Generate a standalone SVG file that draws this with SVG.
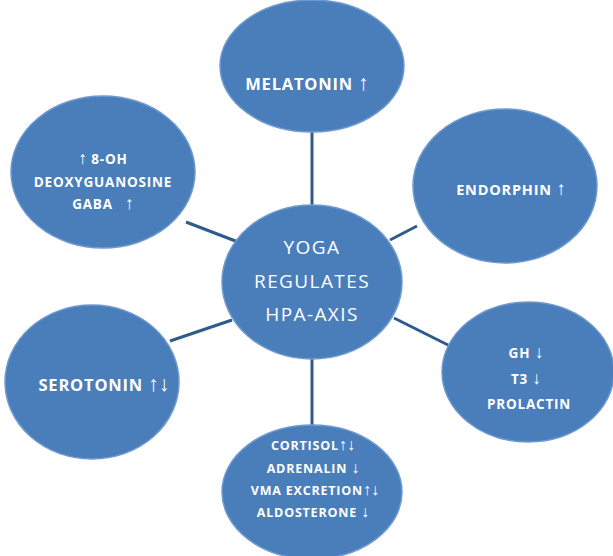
<svg xmlns="http://www.w3.org/2000/svg" width="613" height="556" viewBox="0 0 613 556">
<style>
.n{fill:#4a7ebb;stroke:#6f9ad0;stroke-width:1.5}
.c{stroke:#2f5b8c;stroke-width:3;fill:none}
.t{fill:#fff;font-family:"Open Sans","Liberation Sans",sans-serif;font-weight:bold;text-anchor:middle;letter-spacing:0.8px}
.m{fill:#fff;font-family:"Open Sans","Liberation Sans",sans-serif;text-anchor:middle;font-size:19px;letter-spacing:1.4px}
.a{font-family:"Liberation Sans",sans-serif;font-weight:normal;letter-spacing:0;font-size:130%}
</style>
<rect width="613" height="556" fill="#fff"/>
<g id="connectors">
<line class="c" x1="312" y1="132" x2="312" y2="206"/>
<line class="c" x1="186" y1="222" x2="238" y2="242"/>
<line class="c" x1="417" y1="226" x2="390" y2="240"/>
<line class="c" x1="170" y1="341" x2="232" y2="320"/>
<line class="c" x1="394" y1="318" x2="450" y2="346"/>
<line class="c" x1="312" y1="357" x2="312" y2="426"/>
</g>
<g id="center">
<ellipse class="n" cx="312" cy="282" rx="90" ry="77"/>
<text class="m" x="312" y="254">YOGA</text>
<text class="m" x="312" y="288">REGULATES</text>
<text class="m" x="312" y="321">HPA-AXIS</text>
</g>
<g id="melatonin">
<ellipse class="n" cx="312" cy="66" rx="92" ry="66"/>
<text class="t" x="307" y="90" font-size="16.5">MELATONIN <tspan class="a">↑</tspan></text>
</g>
<g id="endorphin">
<ellipse class="n" cx="505" cy="186" rx="92" ry="77"/>
<text class="t" x="511" y="195" font-size="14.5">ENDORPHIN <tspan class="a">↑</tspan></text>
</g>
<g id="ohdg">
<ellipse class="n" cx="103" cy="172" rx="92" ry="76"/>
<text class="t" x="103" y="164" font-size="13.5"><tspan class="a">↑</tspan> 8-OH</text>
<text class="t" x="103" y="187" font-size="13.5">DEOXYGUANOSINE</text>
<text class="t" x="103" y="209" font-size="13.5">GABA <tspan class="a" dx="8">↑</tspan></text>
</g>
<g id="serotonin">
<ellipse class="n" cx="92" cy="382" rx="87" ry="77"/>
<text class="t" x="104" y="391" font-size="16.5">SEROTONIN <tspan class="a">↑↓</tspan></text>
</g>
<g id="gh">
<ellipse class="n" cx="528" cy="372" rx="86" ry="70"/>
<text class="t" x="526" y="358" font-size="13.5">GH <tspan class="a">↓</tspan></text>
<text class="t" x="526" y="384" font-size="13.5">T3 <tspan class="a">↓</tspan></text>
<text class="t" x="529" y="409" font-size="13.5">PROLACTIN</text>
</g>
<g id="cortisol">
<ellipse class="n" cx="312" cy="492" rx="90" ry="67"/>
<text class="t" x="313" y="450" font-size="12.5">CORTISOL<tspan class="a">↑↓</tspan></text>
<text class="t" x="313" y="473" font-size="12.5">ADRENALIN <tspan class="a">↓</tspan></text>
<text class="t" x="315" y="495" font-size="12.5">VMA EXCRETION<tspan class="a">↑↓</tspan></text>
<text class="t" x="313" y="517" font-size="12.5">ALDOSTERONE <tspan class="a">↓</tspan></text>
</g>
</svg>
